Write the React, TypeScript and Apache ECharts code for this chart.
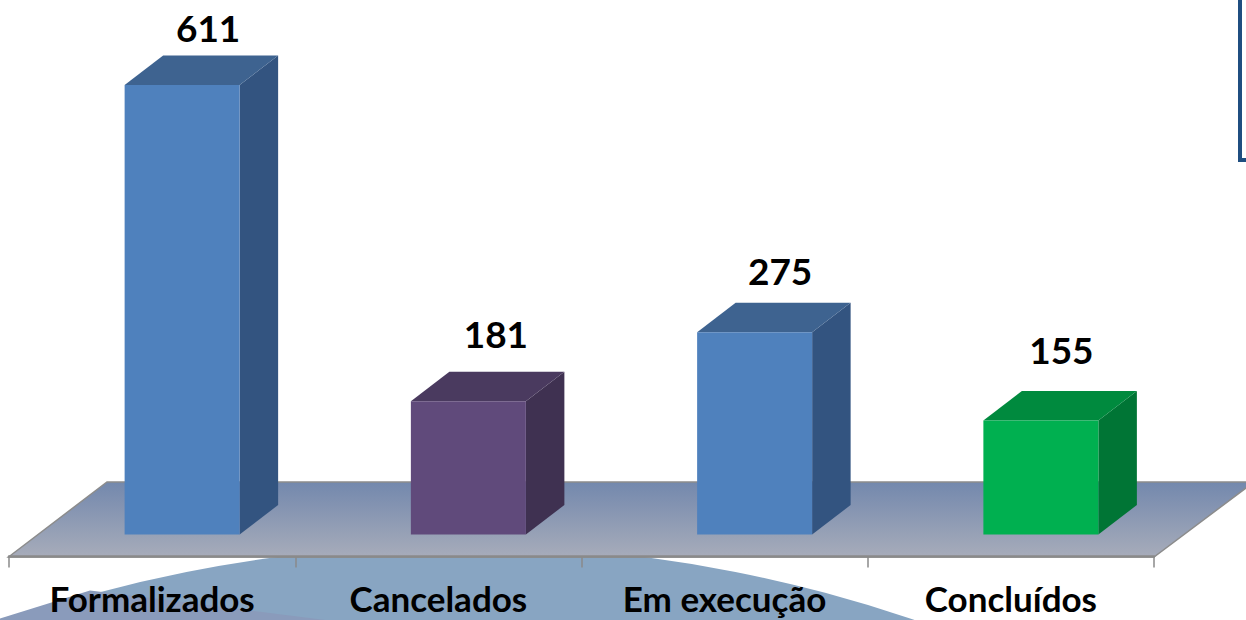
import React, { useEffect, useRef } from "react";
import * as echarts from "echarts";

const categories = ["Formalizados", "Cancelados", "Em execução", "Concluídos"];
const values = [611, 181, 275, 155];

const FONT = "Lato, Carlito, 'Open Sans', sans-serif";
const faces = [
  { front: "#4f81bd", side: "#335480", top: "#3e6390" },
  { front: "#604a7b", side: "#3f3151", top: "#4a3a5f" },
  { front: "#4f81bd", side: "#335480", top: "#3e6390" },
  { front: "#00b050", side: "#007535", top: "#008a3e" },
];
const labelShift = [
  [26, -58],
  [27.5, -68],
  [25.5, -62],
  [20.5, -71],
];
const BAR_W = 115;
const BAR_SHIFT = 30;
const DX = 38.5;
const DY = -29.5;

function renderBar(params: any, api: any) {
  const i = api.value(0);
  const v = api.value(1);
  const top = api.coord([i, v]);
  const base = api.coord([i, 0]);
  const x0 = top[0] + BAR_SHIFT - BAR_W / 2;
  const x1 = x0 + BAR_W;
  const y0 = top[1];
  const y1 = base[1];
  const c = faces[i];
  return {
    type: "group",
    children: [
      {
        type: "polygon",
        shape: { points: [[x1, y0], [x1 + DX, y0 + DY], [x1 + DX, y1 + DY], [x1, y1]] },
        style: { fill: c.side },
      },
      {
        type: "polygon",
        shape: { points: [[x0, y0], [x0 + DX, y0 + DY], [x1 + DX, y0 + DY], [x1, y0]] },
        style: { fill: c.top },
      },
      {
        type: "rect",
        shape: { x: x0, y: y0, width: BAR_W, height: y1 - y0 },
        style: { fill: c.front },
      },
      {
        type: "text",
        x: top[0] + BAR_SHIFT + labelShift[i][0],
        y: y0 + labelShift[i][1],
        style: {
          text: String(v),
          fill: "#000",
          font: `700 37px ${FONT}`,
          align: "center",
          verticalAlign: "middle",
        },
      },
    ],
  };
}

export default function App() {
  const ref = useRef<HTMLDivElement>(null);
  useEffect(() => {
    const chart = echarts.init(ref.current!, undefined, { renderer: "svg" });
    chart.setOption({
      animation: false,
      backgroundColor: "#ffffff",
      grid: { left: 9, top: 85, width: 1145, height: 449.5 },
      xAxis: {
        type: "category",
        data: categories,
        offset: 22,
        axisLine: { onZero: false, lineStyle: { color: "#8a8a8a", width: 2.5 } },
        axisTick: { show: true, length: 11, lineStyle: { color: "#8a8a8a", width: 1.5 } },
        axisLabel: { color: "#000", fontFamily: FONT, fontWeight: 700, fontSize: 35, lineHeight: 30, margin: 26 },
      },
      yAxis: { type: "value", min: 0, max: 611, show: false, splitLine: { show: false } },
      graphic: [
        {
          type: "circle",
          z: -3,
          silent: true,
          shape: { cx: 461, cy: 1952, r: 1407 },
          style: { fill: "#88a5c2" },
        },
        {
          type: "polygon",
          z: -2,
          silent: true,
          shape: { points: [[0, 620], [0, 618.5], [90, 590.5], [200, 604], [333, 621]] },
          style: { fill: "#8a9bbb" },
        },
        {
          type: "polygon",
          z: -1,
          silent: true,
          shape: { points: [[8.5, 557], [107, 482], [1254, 482], [1154, 557]] },
          style: {
            fill: new echarts.graphic.LinearGradient(0, 0, 0, 1, [
              { offset: 0, color: "#7388ad" },
              { offset: 1, color: "#a7acba" },
            ]),
            stroke: "#8c8c8c",
            lineWidth: 1.5,
          },
        },
        {
          type: "rect",
          z: -1,
          silent: true,
          shape: { x: 1240, y: -10, width: 20, height: 170 },
          style: { fill: "#ffffff", stroke: "#1f4e80", lineWidth: 4 },
        },
      ],
      series: [
        {
          type: "custom",
          clip: false,
          silent: true,
          renderItem: renderBar,
          encode: { x: 0, y: 1 },
          data: values.map((v, i) => [i, v]),
        },
      ],
    });
    return () => chart.dispose();
  }, []);
  return <div ref={ref} style={{ position: "fixed", left: 0, top: 0, width: 1246, height: 620 }} />;
}
